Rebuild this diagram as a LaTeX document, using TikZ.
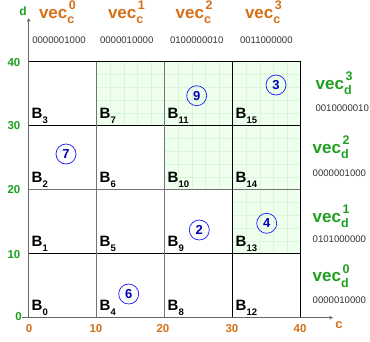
\documentclass[tikz,border=0pt]{standalone}
\usepackage{fontspec}
\setmainfont{Liberation Sans}
\newcommand{\vlab}[2]{vec\rlap{\raisebox{-0.34em}{\fontsize{12.5}{12.5}\selectfont #1}}\hspace{1.5pt}\raisebox{0.5em}{\fontsize{12.5}{12.5}\selectfont #2}}
\newcommand{\blk}[1]{B\raisebox{-0.3em}{\fontsize{9.5}{9.5}\selectfont #1}}
\begin{document}
\begin{tikzpicture}[x=1pt,y=-1pt,
  every node/.style={inner sep=0pt,outer sep=0pt},
  veclab/.style={font=\fontsize{17}{17}\selectfont\bfseries, anchor=base west},
  binlab/.style={font=\fontsize{9.6}{9.6}\selectfont, text=black!80, anchor=west},
  blab/.style={font=\fontsize{15}{15}\selectfont\bfseries, anchor=base west},
  ticklab/.style={font=\fontsize{11.5}{11.5}\selectfont\bfseries},
  circnum/.style={circle,draw=blue!90!white,line width=0.7pt,minimum size=20pt,text=blue!70!black,font=\fontsize{13}{13}\selectfont\bfseries},
  gridblack/.style={line width=0.7pt,black},
  gridgray/.style={line width=0.7pt,black!55}]
\definecolor{corange}{RGB}{214,112,24}
\definecolor{cgreen}{RGB}{30,160,30}
\definecolor{cellgreen}{RGB}{238,255,238}
\definecolor{finegreen}{RGB}{216,246,216}
\useasboundingbox (0,0) rectangle (370,341);
% green cells (col,row) with fine grid
\foreach \i/\j in {1/3,2/3,3/3,2/2,3/2,3/1}{
  \pgfmathsetmacro{\xa}{28.7+\i*68}
  \pgfmathsetmacro{\ya}{317.7-(\j+1)*64}
  \fill[cellgreen] (\xa,\ya) rectangle ++(68,64);
  \foreach \k in {1,...,4}{
    \draw[finegreen,line width=0.5pt] (\xa+\k*13.6,\ya) -- ++(0,64);
    \draw[finegreen,line width=0.5pt] (\xa,\ya+\k*12.8) -- ++(68,0);
  }
}
% grid lines
\draw[gridblack] (28.7,61.7) -- (300.7,61.7);
\draw[gridblack] (28.7,125.7) -- (300.7,125.7);
\draw[gridgray] (28.7,189.7) -- (300.7,189.7);
\draw[gridblack] (28.7,253.7) -- (300.7,253.7);
\draw[gridgray] (96.7,61.7) -- (96.7,317.7);
\draw[gridgray] (164.7,61.7) -- (164.7,317.7);
\draw[gridblack] (232.7,61.7) -- (232.7,317.7);
\draw[gridblack] (300.7,61.7) -- (300.7,317.7);
% axes
\coordinate (o) at (28.7,317.7);
\coordinate (dtop) at (28.7,18);
\coordinate (cend) at (333,317.7);
\coordinate (tk) at (22,317.7);
\draw[black!60,line width=0.7pt,-stealth] (o) -- (dtop);
\draw[black!60,line width=0.7pt,-stealth] (o) -- (cend);
\draw[black!60,line width=0.7pt] (tk) -- (o);
\node[text=cgreen,font=\fontsize{12}{12}\selectfont\bfseries] (dl) at (23,11) {d};
\node[text=corange,font=\fontsize{13}{13}\selectfont\bfseries] (cl) at (339,325) {c};
% tick labels
\node[ticklab,text=cgreen] (d40) at (14,63) {40};
\node[ticklab,text=cgreen] (d30) at (14,126) {30};
\node[ticklab,text=cgreen] (d20) at (14,190) {20};
\node[ticklab,text=cgreen] (d10) at (14,255) {10};
\node[ticklab,text=cgreen] (d0) at (18.5,317) {0};
\node[ticklab,text=corange] (c0) at (29,329) {0};
\node[ticklab,text=corange] (c10) at (96,329) {10};
\node[ticklab,text=corange] (c20) at (163,329) {20};
\node[ticklab,text=corange] (c30) at (232,329) {30};
\node[ticklab,text=corange] (c40) at (300,329) {40};
% column labels
\foreach \n/\x/\bx/\b in {0/39/32.3/0000001000,1/108/100/0000010000,2/175.7/170/0100000010,3/245/240/0011000000}{
  \node[veclab,text=corange] (vc\n) at (\x,18) {\vlab{c}{\n}};
  \node[binlab] (bc\n) at (\bx,40) {\b};
}
% row labels
\node[veclab,text=cgreen] (vd3) at (315.7,89) {\vlab{d}{3}};
\node[binlab] (bd3) at (315.5,108) {0010000010};
\node[veclab,text=cgreen] (vd2) at (312.7,153) {\vlab{d}{2}};
\node[binlab] (bd2) at (312.7,173) {0000001000};
\node[veclab,text=cgreen] (vd1) at (312.7,222) {\vlab{d}{1}};
\node[binlab] (bd1) at (312.7,239) {0101000000};
\node[veclab,text=cgreen] (vd0) at (312.7,281.5) {\vlab{d}{0}};
\node[binlab] (bd0) at (312.7,300) {0000010000};
% block labels
\foreach \i in {0,...,3}{
  \foreach \j in {0,...,3}{
    \pgfmathtruncatemacro{\bn}{\i*4+\j}
    \node[blab] (B\bn) at (28.7+\i*68+3,317.7-\j*64-7) {\blk{\bn}};
  }
}
% circled numbers
\node[circnum] (n9) at (196.7,95.7) {9};
\node[circnum] (n3) at (276,85) {3};
\node[circnum] (n7) at (66,154) {7};
\node[circnum] (n2) at (199.3,230) {2};
\node[circnum] (n4) at (266.7,223.3) {4};
\node[circnum] (n6) at (128.7,294) {6};
\end{tikzpicture}
\end{document}
